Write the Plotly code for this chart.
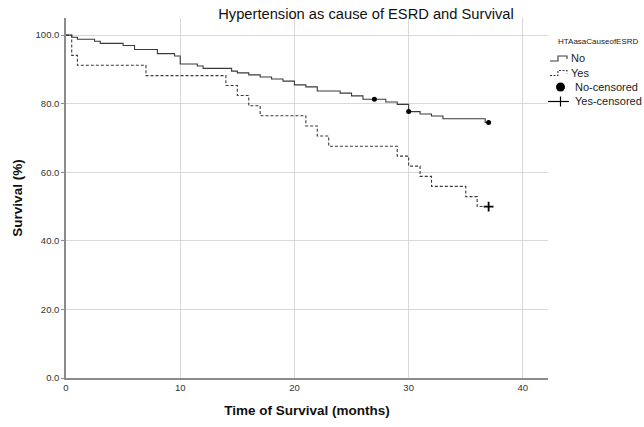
import plotly.graph_objects as go

# ---- data ----
no_time = [0, 0.5, 1, 2.5, 3, 5, 6, 8, 9.5, 10, 11.5, 12, 14.5, 15, 16, 17, 18, 19, 20, 21, 22, 24, 25, 26,
           28, 29, 30, 31, 32, 33, 36.7, 37]
no_surv = [100, 99.4, 98.8, 98.2, 97.6, 97.0, 95.8, 94.6, 93.9, 91.6, 91.0, 90.3, 89.5, 89.0, 88.4, 87.8,
           87.2, 86.6, 85.5, 84.9, 83.7, 83.1, 82.3, 81.3, 80.5, 79.8, 77.7, 77.0, 76.4, 75.6, 74.5, 74.5]

yes_time = [0, 0.5, 1, 7, 14, 15, 16, 17, 21, 22, 23, 29, 30, 31, 32, 35, 36, 37]
yes_surv = [100, 94.1, 91.2, 88.2, 85.3, 82.4, 79.4, 76.5, 73.5, 70.6, 67.6, 64.7, 61.8, 58.8, 55.9,
            52.9, 50.0, 50.0]

no_cens_time = [27, 30, 37]
no_cens_surv = [81.3, 77.7, 74.5]
yes_cens_time = [37]
yes_cens_surv = [50.0]

x_ticks = [0, 10, 20, 30, 40]
y_ticks = [0, 20, 40, 60, 80, 100]

title = "Hypertension as cause of ESRD and Survival"
x_title = "Time of Survival (months)"
y_title = "Survival (%)"
legend_title = "HTAasaCauseofESRD"
legend_names = ["No", "Yes", "No-censored", "Yes-censored"]

FONT = "Liberation Sans, Arial, sans-serif"
LINE = "#3a3a3a"

# plot-area geometry (pixels) used for placing the hand-built legend
W, H = 644, 427
ML, MR, MT, MB = 66, 96, 18, 49
PW, PH = W - ML - MR, H - MT - MB


def px(x):
    return (x - ML) / PW


def py(y):
    return (H - MB - y) / PH


fig = go.Figure()
fig.add_trace(go.Scatter(x=no_time, y=no_surv, mode="lines", line_shape="hv", name=legend_names[0],
                         line=dict(color=LINE, width=1.1), showlegend=False))
fig.add_trace(go.Scatter(x=yes_time, y=yes_surv, mode="lines", line_shape="hv", name=legend_names[1],
                         line=dict(color=LINE, width=1.1, dash="3px,2px"), showlegend=False))
fig.add_trace(go.Scatter(x=no_cens_time, y=no_cens_surv, mode="markers", name=legend_names[2],
                         marker=dict(symbol="circle", size=5, color="black"), showlegend=False))
fig.add_trace(go.Scatter(x=yes_cens_time, y=yes_cens_surv, mode="markers", name=legend_names[3],
                         marker=dict(symbol="cross-thin", size=7, color="black",
                                     line=dict(width=1.8, color="black")), showlegend=False))

# ---- hand-built legend (SPSS style, compact rows) ----
row_y = [58, 72.5, 87, 101.5]
shapes = []
annotations = [dict(text=legend_title, xref="paper", yref="paper", x=px(556), y=py(41),
                    xanchor="left", yanchor="middle", showarrow=False,
                    font=dict(size=8, color="#222"))]
for i, (nm, ry) in enumerate(zip(legend_names, row_y)):
    if i < 2:
        path = "M{:.4f},{:.4f} L{:.4f},{:.4f} L{:.4f},{:.4f} L{:.4f},{:.4f} L{:.4f},{:.4f}".format(
            px(550), py(ry + 3), px(558), py(ry + 3), px(558), py(ry - 2),
            px(567), py(ry - 2), px(567), py(ry + 1))
        shapes.append(dict(type="path", xref="paper", yref="paper", path=path,
                           line=dict(color=LINE, width=1.1, dash="solid" if i == 0 else "2px,1.5px")))
        tx = 569
    elif i == 2:
        shapes.append(dict(type="circle", xref="paper", yref="paper",
                           x0=px(556), x1=px(565), y0=py(ry + 4.5), y1=py(ry - 4.5),
                           fillcolor="black", line=dict(color="black", width=0)))
        tx = 573
    else:
        shapes.append(dict(type="line", xref="paper", yref="paper", x0=px(548), x1=px(569),
                           y0=py(ry), y1=py(ry), line=dict(color="black", width=1.2)))
        shapes.append(dict(type="line", xref="paper", yref="paper", x0=px(560.5), x1=px(560.5),
                           y0=py(ry - 5), y1=py(ry + 5), line=dict(color="black", width=1.2)))
        tx = 573
    annotations.append(dict(text=nm, xref="paper", yref="paper", x=px(tx), y=py(ry),
                            xanchor="left", yanchor="middle", showarrow=False,
                            font=dict(size=11, color="#222")))

fig.update_layout(
    width=W, height=H,
    margin=dict(l=ML, r=MR, t=MT, b=MB, autoexpand=False),
    paper_bgcolor="white", plot_bgcolor="white",
    font=dict(family=FONT, color="#222", size=11),
    title=dict(text=title, x=366 / W, xanchor="center", y=1 - 14 / H, yanchor="middle",
               xref="container", yref="container", font=dict(size=14.7, color="#111")),
    showlegend=False,
    shapes=shapes,
    annotations=annotations,
)
fig.update_xaxes(range=[0, 42.2], tickvals=x_ticks, showgrid=True, gridcolor="#d9d9d9", gridwidth=1.2,
                 showline=True, linecolor="#8c8c8c", linewidth=1.5, zeroline=False, automargin=False,
                 ticks="", tickfont=dict(size=9.5, color="#333"),
                 title=dict(text="<b>" + x_title + "</b>", font=dict(size=13.5, color="#111", family=FONT),
                            standoff=13))
fig.update_yaxes(range=[0, 105], tickvals=y_ticks, tickformat=".1f", showgrid=True, gridcolor="#d9d9d9",
                 gridwidth=1.2, showline=True, linecolor="#8c8c8c", linewidth=1.5, zeroline=False,
                 automargin=False,
                 ticks="outside", ticklen=3, tickcolor="#8c8c8c", tickfont=dict(size=9.5, color="#333"),
                 title=dict(text="<b>" + y_title + "</b>", font=dict(size=13.5, color="#111", family=FONT),
                            standoff=10))

# the page's default 8px body margin would shift the 644x427 figure inside the 644x427 window
fig.write_html("out.html", config={"displayModeBar": False},
               post_script="document.body.style.margin='0';document.body.style.padding='0';")
